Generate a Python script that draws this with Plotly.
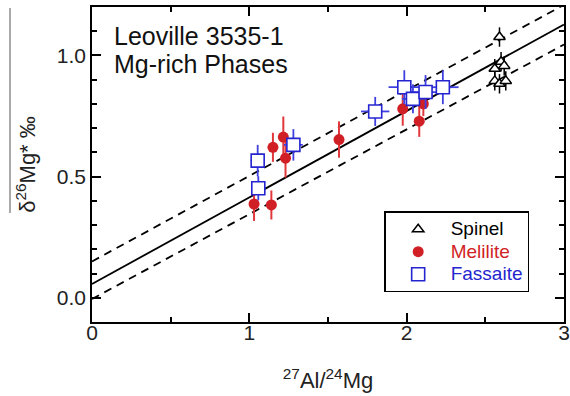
import plotly.graph_objects as go

# ---- data ----
spinel_x = [2.59, 2.60, 2.62, 2.56, 2.56, 2.59, 2.63]
spinel_y = [1.076, 0.974, 0.957, 0.945, 0.895, 0.883, 0.895]
spinel_yerr = [0.04, 0.04, 0.04, 0.04, 0.04, 0.04, 0.04]
spinel_xerr = [0.01, 0.01, 0.01, 0.01, 0.01, 0.01, 0.01]

melilite_x = [1.03, 1.14, 1.15, 1.216, 1.23, 1.57, 1.975, 2.106, 2.08]
melilite_y = [0.387, 0.383, 0.621, 0.663, 0.576, 0.653, 0.780, 0.800, 0.729]
melilite_yerr = [0.07, 0.06, 0.06, 0.085, 0.08, 0.075, 0.07, 0.05, 0.065]

fassaite_x = [1.053, 1.057, 1.28, 1.80, 1.985, 2.04, 2.12, 2.23]
fassaite_y = [0.566, 0.452, 0.631, 0.769, 0.869, 0.821, 0.849, 0.869]
fassaite_xerr = [0.045, 0.045, 0.06, 0.09, 0.10, 0.07, 0.10, 0.10]
fassaite_yerr = [0.065, 0.05, 0.065, 0.06, 0.07, 0.06, 0.07, 0.07]

# isochron fit and envelope (intercept, slope)
fit = (0.057, 0.357)
upper = (0.150, 0.353)
lower = (-0.005, 0.350)

x_range = [0, 3]
y_range = [-0.1, 1.2]
x_ticks = [0, 1, 2, 3]
x_ticklabels = ["0", "1", "2", "3"]
y_ticks = [0.0, 0.5, 1.0]
y_ticklabels = ["0.0", "0.5", "1.0"]

RED = "#d11f26"
RED_ERR = "#e0383c"
BLUE = "#2424d0"
BLUE_ERR = "#4040e0"
FONT = "Liberation Sans, Arial, sans-serif"

fig = go.Figure()

def line_pts(p):
    a, b = p
    return x_range, [a + b * x for x in x_range]

for p, dash in [(upper, "dash"), (lower, "dash"), (fit, "solid")]:
    lx, ly = line_pts(p)
    fig.add_trace(go.Scatter(x=lx, y=ly, mode="lines", showlegend=False,
                             line=dict(color="black", width=1.8, dash="8px,6px" if dash == "dash" else "solid"),
                             hoverinfo="skip"))

def lname(text, color):
    return "<span style='font-size:19px;color:%s'>%s</span>" % (color, text)

fig.add_trace(go.Scatter(
    x=spinel_x, y=spinel_y, mode="markers", name=lname("Spinel", "black"),
    marker=dict(symbol="triangle-up", size=10, color="white",
                line=dict(color="black", width=1.5)),
    error_y=dict(type="data", array=spinel_yerr, color="black", thickness=1.5, width=0),
    error_x=dict(type="data", array=spinel_xerr, color="black", thickness=1.5, width=0),
))
fig.add_trace(go.Scatter(
    x=melilite_x, y=melilite_y, mode="markers",
    name=lname("Melilite", RED),
    marker=dict(symbol="circle", size=11, color=RED, line=dict(width=0)),
    error_y=dict(type="data", array=melilite_yerr, color=RED_ERR, thickness=2, width=0),
))
fig.add_trace(go.Scatter(
    x=fassaite_x, y=fassaite_y, mode="markers",
    name=lname("Fassaite", BLUE),
    marker=dict(symbol="square", size=13, color="white",
                line=dict(color=BLUE, width=1.6)),
    error_y=dict(type="data", array=fassaite_yerr, color=BLUE_ERR, thickness=1.8, width=0),
    error_x=dict(type="data", array=fassaite_xerr, color=BLUE_ERR, thickness=1.8, width=0),
))

axis_common = dict(showline=True, linecolor="black", linewidth=1.5, mirror="ticks",
                   ticks="inside", ticklen=9, tickwidth=1.5, tickcolor="black",
                   showgrid=False, zeroline=False, automargin=False,
                   tickfont=dict(family=FONT, size=21, color="#222"))

fig.update_xaxes(range=x_range, tickvals=x_ticks, ticktext=x_ticklabels,
                 ticklabelstandoff=-9,
                 minor=dict(dtick=0.5, ticks="inside", ticklen=5, tickwidth=1.5, tickcolor="black"),
                 title=dict(text="<sup>27</sup>Al/<sup>24</sup>Mg", font=dict(family=FONT, size=22, color="#222"),
                            standoff=30),
                 **axis_common)
fig.update_yaxes(range=y_range, tickvals=y_ticks, ticktext=y_ticklabels,
                 minor=dict(dtick=0.1, tick0=0, ticks="inside", ticklen=5, tickwidth=1.5, tickcolor="black"),
                 title=dict(text="δ<sup>26</sup>Mg* ‰", font=dict(family=FONT, size=22, color="#222"),
                            standoff=15),
                 **axis_common)

fig.add_annotation(text="Leoville 3535-1", xref="paper", yref="paper", x=0.042, y=0.908,
                   xanchor="left", yanchor="middle", showarrow=False,
                   font=dict(family=FONT, size=25, color="#111"))
fig.add_annotation(text="Mg-rich Phases", xref="paper", yref="paper", x=0.042, y=0.819,
                   xanchor="left", yanchor="middle", showarrow=False,
                   font=dict(family=FONT, size=25, color="#111"))

fig.add_shape(type="line", xref="paper", yref="paper", x0=-0.1737, x1=-0.1737, y0=0.997, y1=0.346,
              line=dict(color="#555", width=1))

fig.update_layout(
    width=570, height=396,
    margin=dict(l=92, r=6, t=7, b=74, autoexpand=False),
    paper_bgcolor="white", plot_bgcolor="white",
    showlegend=True,
    legend=dict(x=0.619, y=0.351, xanchor="left", yanchor="top",
                bordercolor="black", borderwidth=1.5, bgcolor="white",
                font=dict(family=FONT, size=15, color="black"),
                itemsizing="trace", itemwidth=55),
)

fig.write_html("out.html", config={"displayModeBar": False},
               post_script="document.body.style.margin='0';document.body.style.padding='0';")
